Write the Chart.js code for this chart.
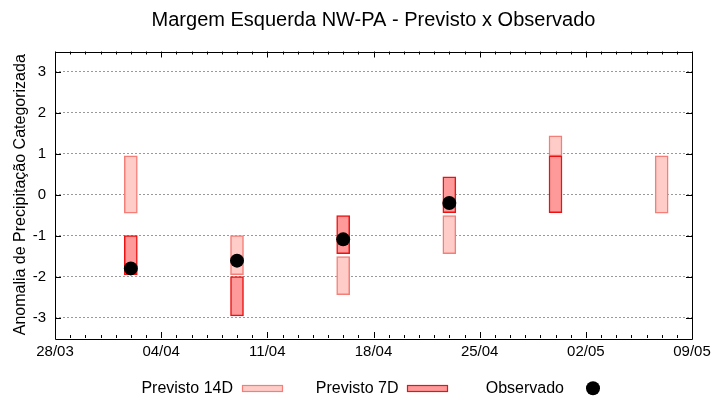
<!DOCTYPE html>
<html>
<head>
<meta charset="utf-8">
<script src="https://cdn.jsdelivr.net/npm/chart.js@4"></script>
<style>
  html, body { margin: 0; padding: 0; background: #fff; }
  #c { display: block; }
</style>
</head>
<body>
<canvas id="c" width="720" height="400"></canvas>
<script>
// ---- data ----
const titleText = 'Margem Esquerda NW-PA - Previsto x Observado';
const yTitle = 'Anomalia de Precipitação Categorizada';
const xTickLabels = ['28/03', '04/04', '11/04', '18/04', '25/04', '02/05', '09/05'];
const yTickValues = [-3, -2, -1, 0, 1, 2, 3];
const forecastDates = ['02/04', '09/04', '16/04', '23/04', '30/04', '07/05'];
const previsto14Low  = [-0.45, -1.95, -2.44, -1.44, 0.95, -0.45];
const previsto14High = [ 0.95, -1.00, -1.51, -0.51, 1.44,  0.95];
const previsto7Low   = [-1.95, -2.96, -1.44, -0.44, -0.44, null];
const previsto7High  = [-1.00, -2.00, -0.51,  0.44,  0.95, null];
const observado      = [-1.80, -1.61, -1.09, -0.20, null, null];
const seriesNames = ['Previsto 14D', 'Previsto 7D', 'Observado'];

// ---- helpers ----
function dayIndex(s) {
  const [d, m] = s.split('/').map(Number);
  const [d0, m0] = xTickLabels[0].split('/').map(Number);
  return Math.round((Date.UTC(2023, m - 1, d) - Date.UTC(2023, m0 - 1, d0)) / 86400000);
}
const xMax = dayIndex(xTickLabels[xTickLabels.length - 1]);

function floating(lows, highs) {
  const out = [];
  forecastDates.forEach((d, i) => {
    if (lows[i] != null && highs[i] != null) out.push({ x: dayIndex(d), y: [lows[i], highs[i]] });
  });
  return out;
}
const obsPoints = [];
forecastDates.forEach((d, i) => { if (observado[i] != null) obsPoints.push({ x: dayIndex(d), y: observado[i] }); });

const FONT = '"Liberation Sans", Arial, sans-serif';
Chart.defaults.font.family = FONT;
Chart.defaults.color = '#000';

const c14 = { fill: '#ffccc8', stroke: '#f47f78' };
const c7  = { fill: '#ff9a9a', stroke: '#ee1111' };

const framePlugin = {
  id: 'frame',
  afterDraw(chart) {
    const ctx = chart.ctx;
    const a = chart.chartArea;
    const xs = chart.scales.x, ys = chart.scales.y;
    ctx.save();
    ctx.strokeStyle = '#000';
    ctx.lineWidth = 1;
    ctx.beginPath();
    for (let d = 0; d <= xMax; d++) {
      const px = Math.round(xs.getPixelForValue(d)) + 0.5;
      const len = (d % 7 === 0) ? 6 : 3;
      ctx.moveTo(px, a.bottom); ctx.lineTo(px, a.bottom - len);
      ctx.moveTo(px, a.top); ctx.lineTo(px, a.top + len);
    }
    yTickValues.forEach(v => {
      const py = Math.round(ys.getPixelForValue(v)) + 0.5;
      ctx.moveTo(a.left, py); ctx.lineTo(a.left + 6, py);
      ctx.moveTo(a.right, py); ctx.lineTo(a.right - 6, py);
    });
    ctx.stroke();
    ctx.beginPath();
    ctx.rect(Math.round(a.left) + 0.5, Math.round(a.top) + 0.5, Math.round(a.right - a.left), Math.round(a.bottom - a.top));
    ctx.stroke();

    // legend
    ctx.font = '16px ' + FONT;
    ctx.fillStyle = '#000';
    ctx.textAlign = 'right';
    ctx.textBaseline = 'alphabetic';
    const centers = [261.5, 427, 593];
    const ty = 392.5;
    ctx.fillText(seriesNames[0], centers[0] - 28.5, ty);
    ctx.fillText(seriesNames[1], centers[1] - 28.5, ty);
    ctx.fillText(seriesNames[2], centers[2] - 29, ty);
    [c14, c7].forEach((col, i) => {
      const x0 = Math.round(centers[i] - 20) + 0.5;
      ctx.fillStyle = col.fill;
      ctx.fillRect(x0, 385.5, 40, 6);
      ctx.strokeStyle = col.stroke;
      ctx.lineWidth = 1.2;
      ctx.strokeRect(x0, 385.5, 40, 6);
    });
    ctx.fillStyle = '#000';
    ctx.beginPath();
    ctx.arc(centers[2], 388.3, 7, 0, Math.PI * 2);
    ctx.fill();
    ctx.restore();
  }
};

new Chart(document.getElementById('c'), {
  type: 'bar',
  data: {
    datasets: [
      {
        type: 'scatter',
        label: seriesNames[2],
        data: obsPoints,
        backgroundColor: '#000',
        borderColor: '#000',
        borderWidth: 0,
        pointRadius: 7,
        order: 0
      },
      {
        label: seriesNames[1],
        data: floating(previsto7Low, previsto7High),
        backgroundColor: c7.fill,
        borderColor: c7.stroke,
        borderWidth: 1.5,
        borderSkipped: false,
        barThickness: 13,
        grouped: false,
        order: 1
      },
      {
        label: seriesNames[0],
        data: floating(previsto14Low, previsto14High),
        backgroundColor: c14.fill,
        borderColor: c14.stroke,
        borderWidth: 1.5,
        borderSkipped: false,
        barThickness: 13,
        grouped: false,
        order: 2
      }
    ]
  },
  options: {
    responsive: false,
    animation: false,
    layout: { padding: { left: 0, right: 28, top: 0, bottom: 0 } },
    plugins: {
      legend: { display: false },
      tooltip: { enabled: false },
      title: {
        display: true,
        text: titleText,
        fullSize: false,
        color: '#000',
        font: { size: 20, weight: 'normal', family: FONT },
        padding: { top: 8, bottom: 19.5 }
      }
    },
    scales: {
      x: {
        type: 'linear',
        position: 'bottom',
        min: 0,
        max: xMax,
        offset: false,
        grid: { display: false, drawTicks: false },
        border: { display: false },
        ticks: {
          stepSize: 7,
          autoSkip: false,
          maxRotation: 0,
          padding: 5,
          color: '#000',
          font: { size: 15 },
          callback: (v) => xTickLabels[Math.round(v / 7)] ?? ''
        },
        afterFit: (s) => { s.height = 62; }
      },
      y: {
        type: 'linear',
        min: -3.5,
        max: 3.5,
        grid: { color: '#999', lineWidth: 1, drawTicks: false },
        border: { display: false, dash: [2, 2] },
        ticks: { padding: 9, color: '#000', font: { size: 15 }, autoSkip: false },
        afterBuildTicks: (s) => { s.ticks = yTickValues.map(v => ({ value: v })); },
        afterFit: (s) => { s.width = 55; },
        title: {
          display: true,
          text: yTitle,
          color: '#000',
          font: { size: 16, family: FONT },
          padding: { top: 11, bottom: 0 }
        }
      }
    }
  },
  plugins: [framePlugin]
});
</script>
</body>
</html>
